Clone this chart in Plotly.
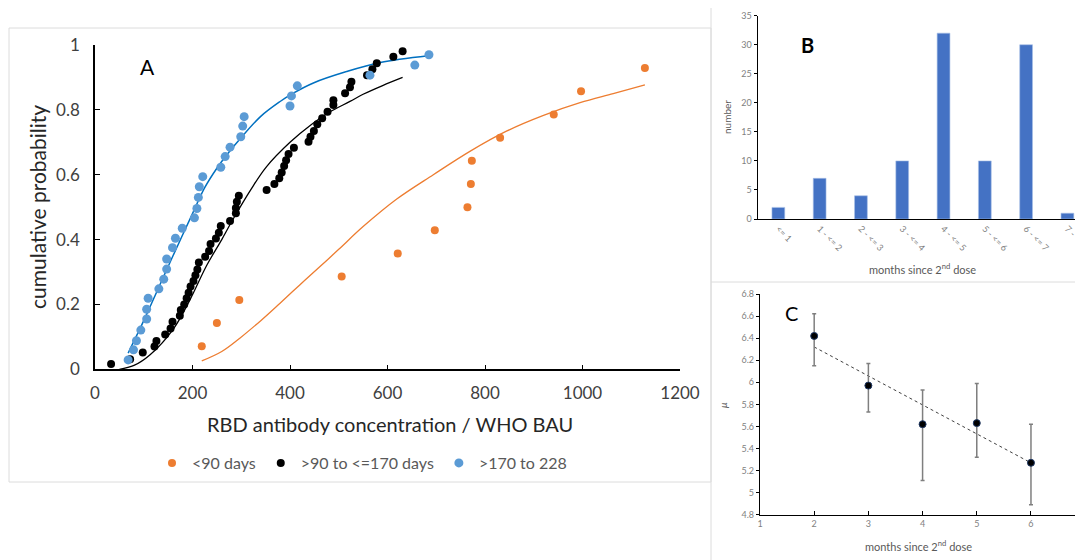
import plotly.graph_objects as go

# page body adds an 8px margin; lay the figure out in reference pixels and compensate
OFF = 8
W, H = 1083 - OFF, 560 - OFF

# ---------------- Panel A data ----------------
orange_x = [219, 250, 296, 506, 621, 697, 764, 771, 773, 831, 941, 997, 1128]
orange_p = [0.071, 0.143, 0.214, 0.286, 0.357, 0.429, 0.5, 0.571, 0.643, 0.714, 0.786, 0.857, 0.929]

black_x = [33, 72, 98, 122, 126, 144, 155, 159, 174, 176, 183, 188, 192, 196, 202, 206, 210, 213, 226, 234,
           237, 248, 254, 258, 277, 289, 289, 291, 295, 352, 368, 378, 383, 388, 392, 397, 408, 438, 442, 449,
           456, 466, 477, 489, 489, 513, 523, 526, 558, 569, 578, 612, 631]
black_p = [0.016, 0.031, 0.052, 0.07, 0.087, 0.107, 0.126, 0.147, 0.165, 0.183, 0.20, 0.219, 0.236, 0.255,
           0.272, 0.29, 0.308, 0.329, 0.347, 0.365, 0.386, 0.403, 0.421, 0.442, 0.457, 0.481, 0.497, 0.517,
           0.535, 0.553, 0.571, 0.589, 0.607, 0.627, 0.645, 0.664, 0.683, 0.702, 0.717, 0.735, 0.756, 0.774,
           0.794, 0.815, 0.83, 0.851, 0.870, 0.887, 0.907, 0.925, 0.944, 0.964, 0.981]

blue_x = [68, 79, 85, 94, 106, 106, 109, 131, 141, 147, 147, 159, 165, 179, 204, 209, 212, 214, 221, 258,
          267, 277, 299, 303, 306, 400, 403, 415, 564, 656, 685]
blue_p = [0.029, 0.06, 0.088, 0.121, 0.155, 0.185, 0.219, 0.248, 0.278, 0.309, 0.34, 0.375, 0.404, 0.435,
          0.467, 0.496, 0.53, 0.563, 0.594, 0.623, 0.656, 0.685, 0.717, 0.75, 0.779, 0.812, 0.843, 0.874,
          0.907, 0.938, 0.97]

orange_curve_x = [219, 260, 297, 340, 379, 420, 461, 500, 550, 619, 694, 769, 845, 920, 995, 1063, 1128]
orange_curve_p = [0.026, 0.055, 0.096, 0.15, 0.203, 0.26, 0.316, 0.37, 0.44, 0.525, 0.60, 0.672, 0.735,
                  0.783, 0.822, 0.85, 0.877]

black_curve_x = [50, 80, 113, 161, 195, 229, 260, 284, 320, 352, 400, 444, 482, 523, 550, 590, 631]
black_curve_p = [0.0, 0.012, 0.045, 0.125, 0.215, 0.32, 0.40, 0.465, 0.555, 0.625, 0.70, 0.755, 0.794,
                 0.826, 0.848, 0.875, 0.90]

blue_curve_x = [68, 100, 130, 160, 200, 225, 250, 275, 300, 340, 379, 405, 448, 516, 585, 684]
blue_curve_p = [0.05, 0.15, 0.25, 0.35, 0.48, 0.56, 0.62, 0.67, 0.715, 0.78, 0.825, 0.85, 0.883, 0.918,
                0.946, 0.967]

a_xticks = [0, 200, 400, 600, 800, 1000, 1200]
a_yticks = [0, 0.2, 0.4, 0.6, 0.8, 1]
a_yticktext = ["0", "0.2", "0.4", "0.6", "0.8", "1"]

# ---------------- Panel B data ----------------
month_bins = ["<= 1", "1 - <= 2", "2 - <= 3", "3 - <= 4", "4 - <= 5", "5 - <= 6", "6 - <= 7", "7 - <= 8"]
counts = [2, 7, 4, 10, 32, 10, 30, 1]
b_yticks = [0, 5, 10, 15, 20, 25, 30, 35]

# ---------------- Panel C data ----------------
months = [2, 3, 4, 5, 6]
mu = [6.42, 5.97, 5.62, 5.63, 5.27]
err_plus = [0.20, 0.20, 0.31, 0.36, 0.35]
err_minus = [0.27, 0.24, 0.51, 0.31, 0.38]
trend_x = [2, 6]
trend_y = [6.32, 5.27]
c_xticks = [1, 2, 3, 4, 5, 6, 7]
c_yticks = [4.8, 5, 5.2, 5.4, 5.6, 5.8, 6, 6.2, 6.4, 6.6, 6.8]
c_yticktext = ["4.8", "5", "5.2", "5.4", "5.6", "5.8", "6", "6.2", "6.4", "6.6", "6.8"]

ORANGE = "#ED7D31"
BLUE_PT = "#5B9BD5"
BLUE_LN = "#0070C0"
BAR = "#4472C4"
FONT = "Lato"


def px(x):
    return (x - OFF) / W


def py(y):
    return 1 - (y - OFF) / H


fig = go.Figure()

# Panel A curves
fig.add_trace(go.Scatter(x=orange_curve_x, y=orange_curve_p, mode="lines", line=dict(color=ORANGE, width=1.3, shape="spline"),
                         showlegend=False, hoverinfo="skip", xaxis="x", yaxis="y"))
fig.add_trace(go.Scatter(x=black_curve_x, y=black_curve_p, mode="lines", line=dict(color="black", width=1.3, shape="spline"),
                         showlegend=False, hoverinfo="skip", xaxis="x", yaxis="y"))
fig.add_trace(go.Scatter(x=blue_curve_x, y=blue_curve_p, mode="lines", line=dict(color=BLUE_LN, width=1.5, shape="spline"),
                         showlegend=False, hoverinfo="skip", xaxis="x", yaxis="y"))
# Panel A points
fig.add_trace(go.Scatter(x=orange_x, y=orange_p, mode="markers", name="<90 days",
                         marker=dict(color=ORANGE, size=8), cliponaxis=False, xaxis="x", yaxis="y"))
fig.add_trace(go.Scatter(x=black_x, y=black_p, mode="markers", name=">90 to <=170 days",
                         marker=dict(color="black", size=8), cliponaxis=False, xaxis="x", yaxis="y"))
fig.add_trace(go.Scatter(x=blue_x, y=blue_p, mode="markers", name=">170 to 228",
                         marker=dict(color=BLUE_PT, size=9), cliponaxis=False, xaxis="x", yaxis="y"))

# Panel B bars
fig.add_trace(go.Bar(x=month_bins, y=counts, marker=dict(color=BAR, line=dict(color="#A9C1E8", width=0.6)),
                     width=0.31, showlegend=False, xaxis="x2", yaxis="y2"))

# Panel C
fig.add_trace(go.Scatter(x=trend_x, y=trend_y, mode="lines", line=dict(color="#404040", width=1, dash="dot"),
                         showlegend=False, xaxis="x3", yaxis="y3"))
fig.add_trace(go.Scatter(x=months, y=mu, mode="markers",
                         marker=dict(color="black", size=7, line=dict(color="#1F3864", width=1)),
                         error_y=dict(type="data", symmetric=False, array=err_plus, arrayminus=err_minus,
                                      color="#7F7F7F", thickness=1.5, width=2),
                         showlegend=False, xaxis="x3", yaxis="y3"))

axA = dict(showline=True, linecolor="black", linewidth=1.5, showgrid=False, zeroline=False, automargin=False,
           ticks="inside", ticklen=5, tickcolor="black", tickfont=dict(family=FONT, size=17, color="#404040"))
axB = dict(showline=True, linecolor="black", linewidth=1.3, showgrid=False, zeroline=False, automargin=False,
           tickfont=dict(family=FONT, size=9, color="#7F7F7F"))

fig.update_layout(
    width=W, height=H,
    margin=dict(l=0, r=0, t=0, b=0, autoexpand=False),
    paper_bgcolor="white", plot_bgcolor="white",
    font=dict(family=FONT, color="#404040"),
    xaxis=dict(axA, domain=[px(95), px(680)], range=[0, 1200], tickvals=a_xticks, anchor="y",
               ticklabelstandoff=8),
    yaxis=dict(axA, domain=[py(369.3), py(45)], range=[0, 1], tickvals=a_yticks, ticktext=a_yticktext,
               anchor="x", ticklabelstandoff=10),
    xaxis2=dict(axB, domain=[px(757.7), 1.0], range=[-0.5, 7.377], type="category", tickangle=45,
                ticks="", anchor="y2"),
    yaxis2=dict(axB, domain=[py(219), py(15.7)], range=[0, 35], tickvals=b_yticks, ticks="outside",
                ticklen=3, tickcolor="black", anchor="x2"),
    xaxis3=dict(axB, domain=[px(760), 1.0], range=[1, 6.96], tickvals=c_xticks, ticks="inside",
                ticklen=4, tickcolor="black", anchor="y3"),
    yaxis3=dict(axB, domain=[py(514.7), py(294)], range=[4.8, 6.8], tickvals=c_yticks, ticktext=c_yticktext,
                ticks="outside", ticklen=3, tickcolor="black", anchor="x3"),
    legend=dict(orientation="h", x=px(362), xanchor="center", y=py(463), yanchor="middle",
                font=dict(family=FONT, size=16, color="#595959"), itemwidth=30, tracegroupgap=0,
                bgcolor="rgba(0,0,0,0)"),
    bargap=0.69,
)


def label(text, x, y, size, color, angle=0):
    return dict(text=text, x=px(x), y=py(y), xref="paper", yref="paper", showarrow=False,
                xanchor="center", yanchor="middle", textangle=angle,
                font=dict(family=FONT, size=size, color=color))


ann = [
    label("RBD antibody concentration / WHO BAU", 390, 424, 20, "#262626"),
    label("cumulative probability", 38, 207, 21, "#262626", -90),
    label("A", 147, 66, 21, "black"),
    label("<b>B</b>", 807, 45, 20, "black"),
    label("C", 792, 313, 20, "black"),
    label("number", 727, 117, 10, "#595959", -90),
    label("months since 2<sup>nd</sup> dose", 922, 268, 11, "#595959"),
    label("<i>μ</i>", 723, 405, 10, "#595959", -90),
    label("months since 2<sup>nd</sup> dose", 918, 545, 11, "#595959"),
]
fig.update_layout(annotations=ann)

GRAY = "#DCDCDC"
shapes = [
    dict(type="rect", xref="paper", yref="paper", x0=px(9), y0=py(28), x1=px(711), y1=py(482),
         line=dict(color=GRAY, width=1)),
    dict(type="line", xref="paper", yref="paper", x0=px(711), y0=1.0, x1=px(711), y1=0.0,
         line=dict(color=GRAY, width=1)),
    dict(type="line", xref="paper", yref="paper", x0=px(711), y0=py(282), x1=1, y1=py(282),
         line=dict(color=GRAY, width=1)),
]
fig.update_layout(shapes=shapes)

fig.write_html("out.html")
